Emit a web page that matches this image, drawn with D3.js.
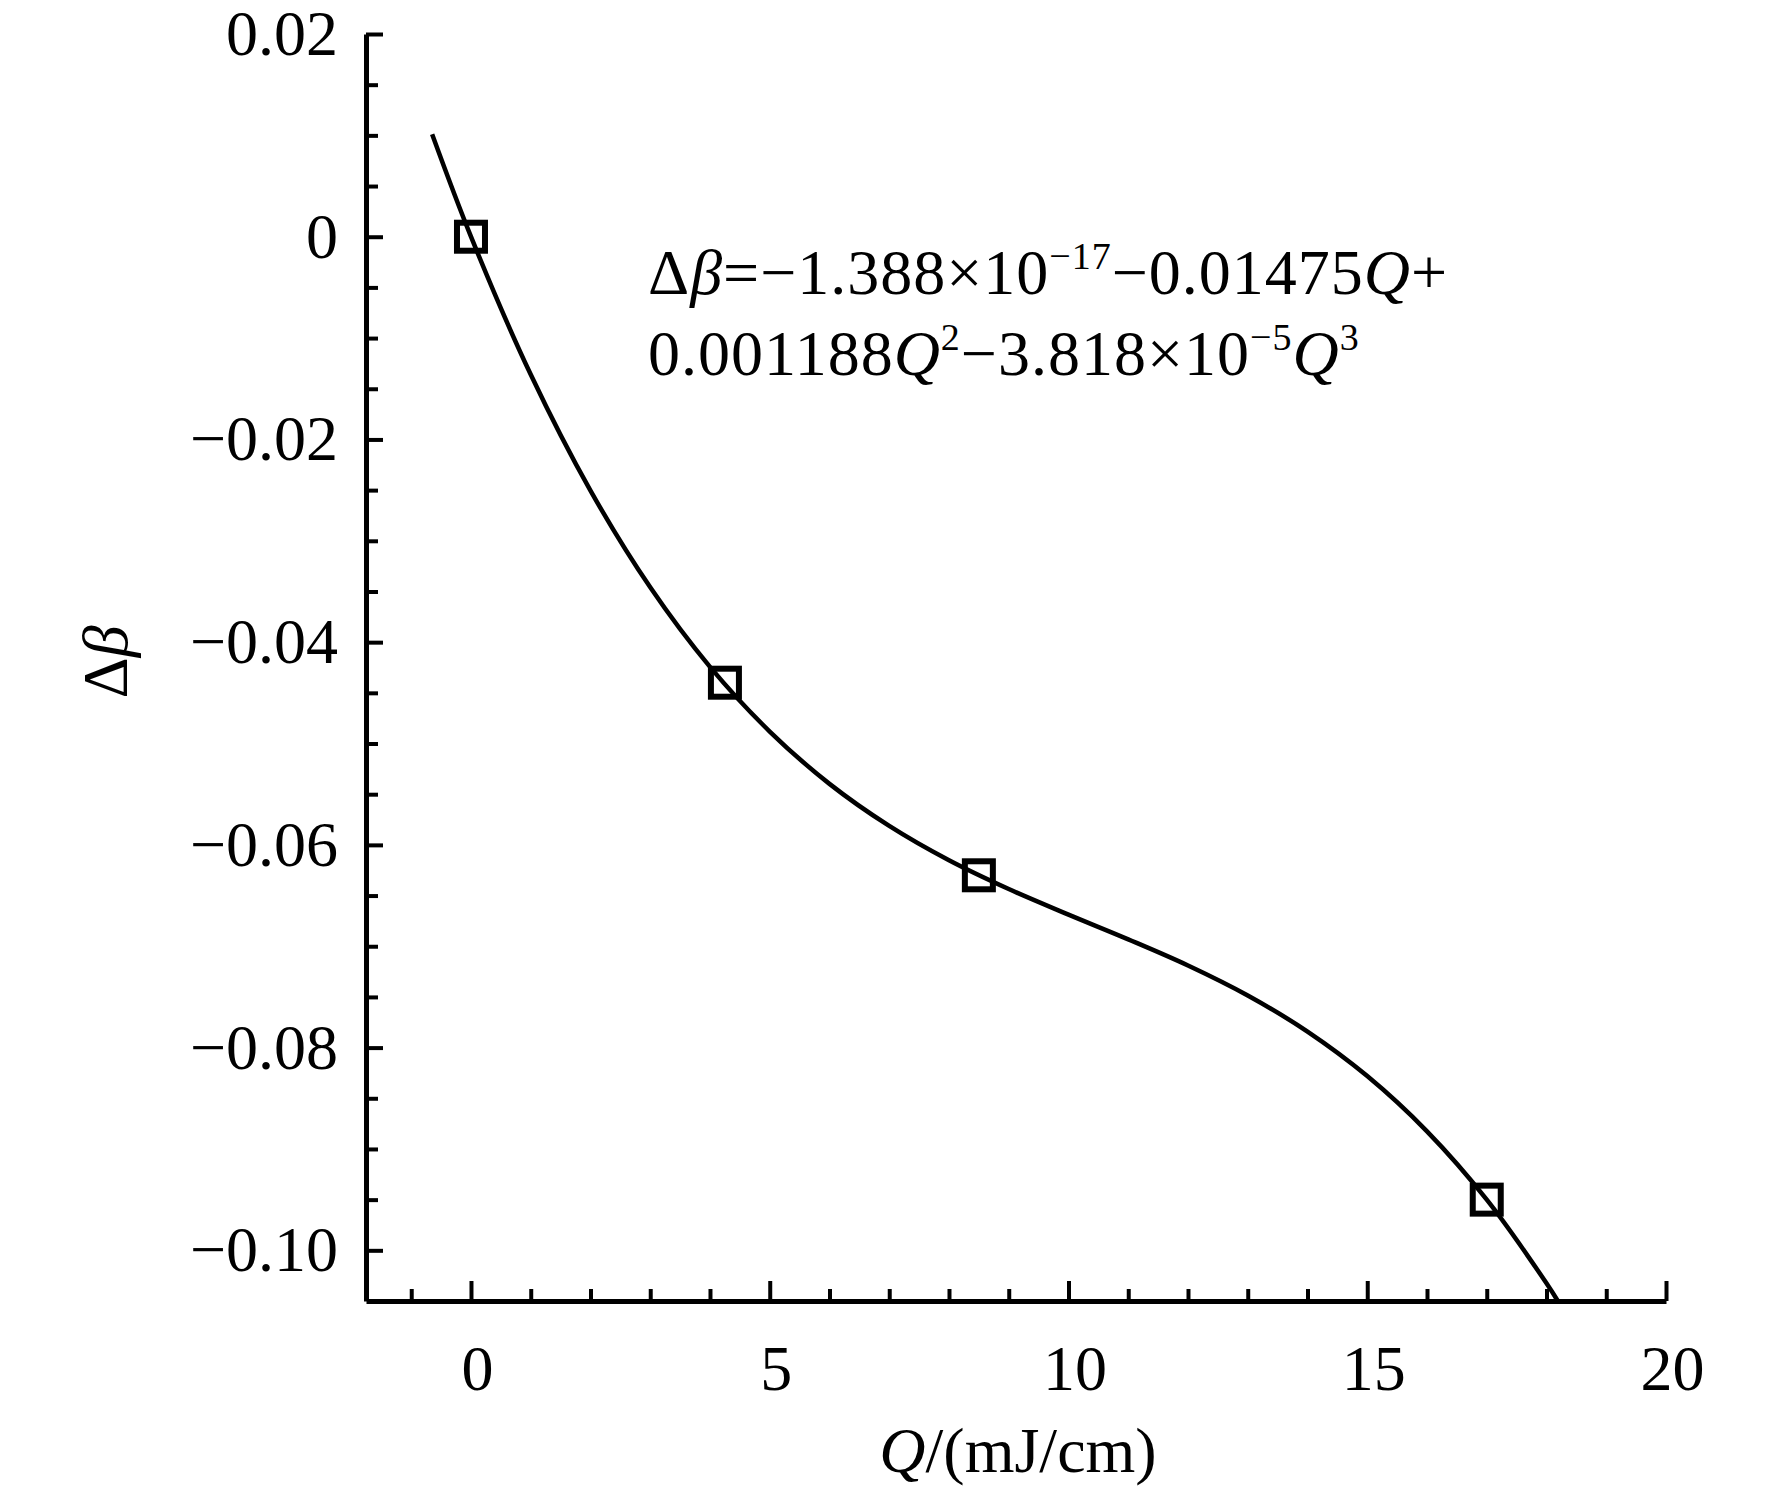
<!DOCTYPE html>
<html>
<head>
<meta charset="utf-8">
<script src="https://cdn.jsdelivr.net/npm/d3@7"></script>
<style>
  body { margin: 0; background: #fff; }
  text { font-family: "Liberation Serif", "Times New Roman", serif; fill: #000; }
</style>
</head>
<body>
<script>
// measured points (squares)
var pointQ = [0, 4.25, 8.5, 17];
var pointB = [0, -0.044, -0.063, -0.095];

// fitted curve
var curveQ = [-0.65, 0, 1, 2, 3, 4, 5, 6, 7, 8, 9, 10, 11, 12, 13, 14, 15, 16, 17, 18, 18.2];
var curveB = [0.0101, 0, -0.0136, -0.02505, -0.03459, -0.04244, -0.04882, -0.05398, -0.05813,
              -0.06152, -0.06436, -0.06688, -0.06932, -0.0719, -0.07486, -0.07842, -0.08281,
              -0.08826, -0.095, -0.10325, -0.1051];

var xMajor = [0, 5, 10, 15, 20];
var xMinor = [-1, 1, 2, 3, 4, 6, 7, 8, 9, 11, 12, 13, 14, 16, 17, 18, 19];
var yMajor = [-0.10, -0.08, -0.06, -0.04, -0.02, 0, 0.02];
var yMinor = [-0.095, -0.09, -0.085, -0.075, -0.07, -0.065, -0.055, -0.05, -0.045,
              -0.035, -0.03, -0.025, -0.015, -0.01, -0.005, 0.005, 0.01, 0.015];

var width = 1772,
    height = 1500;

var svg = d3.select('body')
            .append('svg')
            .attr('width', width)
            .attr('height', height);

var x = d3.scaleLinear().domain([-1.757, 20]).range([366, 1666]);
var y = d3.scaleLinear().domain([-0.105, 0.02]).range([1301, 34]);

var fmtY = function(d) {
  if (d === 0) return "0";
  var s = d3.format(".2f")(Math.abs(d));
  return (d < 0 ? "\u2212" : "") + s;
};

// x axis: minor then major ticks, pointing inward
svg.append("g")
   .attr("transform", "translate(0," + y.range()[0] + ")")
   .call(d3.axisBottom(x).tickValues(xMinor).tickFormat("").tickSizeInner(-12).tickSizeOuter(0))
   .call(function(g) { g.select(".domain").remove(); });

var gx = svg.append("g")
   .attr("transform", "translate(0," + y.range()[0] + ")")
   .call(d3.axisBottom(x).tickValues(xMajor).tickSizeInner(-20).tickSizeOuter(0).tickPadding(44));

// y axis
svg.append("g")
   .attr("transform", "translate(" + x.range()[0] + ",0)")
   .call(d3.axisLeft(y).tickValues(yMinor).tickFormat("").tickSizeInner(-12).tickSizeOuter(0))
   .call(function(g) { g.select(".domain").remove(); });

var gy = svg.append("g")
   .attr("transform", "translate(" + x.range()[0] + ",0)")
   .call(d3.axisLeft(y).tickValues(yMajor).tickFormat(fmtY).tickSizeInner(-17).tickSizeOuter(0).tickPadding(28));

svg.selectAll(".tick line").attr("stroke", "#000").attr("stroke-width", 4);
svg.selectAll(".domain").attr("stroke", "#000").attr("stroke-width", 5);
svg.selectAll(".tick text")
   .style("font-family", '"Liberation Serif", "Times New Roman", serif')
   .attr("font-size", 64)
   .attr("fill", "#000");
gx.selectAll(".tick text").attr("dx", 6);

// fitted curve
var line = d3.line()
  .x(function(d, i) { return x(curveQ[i]); })
  .y(function(d, i) { return y(curveB[i]); })
  .curve(d3.curveCatmullRom);

svg.append("path")
   .datum(curveQ)
   .attr("d", line)
   .attr("fill", "none")
   .attr("stroke", "#000")
   .attr("stroke-width", 4.5);

// squares
svg.selectAll("rect.pt")
   .data(pointQ)
   .enter().append("rect")
   .attr("class", "pt")
   .attr("x", function(d) { return x(d) - 14; })
   .attr("y", function(d, i) { return y(pointB[i]) - 14; })
   .attr("width", 28)
   .attr("height", 28)
   .attr("fill", "none")
   .attr("stroke", "#000")
   .attr("stroke-width", 6);

// equation
var eq = svg.append("text")
  .attr("font-size", 64)
  .attr("letter-spacing", 1);

var l1 = eq.append("tspan").attr("x", 648).attr("y", 294);
l1.append("tspan").text("\u0394");
l1.append("tspan").attr("font-style", "italic").text("\u03b2");
l1.append("tspan").text("=\u22121.388\u00d710");
l1.append("tspan").attr("font-size", 38).attr("dy", -25).text("\u221217");
l1.append("tspan").attr("dy", 25).text("\u22120.01475");
l1.append("tspan").attr("font-style", "italic").text("Q");
l1.append("tspan").text("+");

eq.append("tspan").attr("x", 648).attr("y", 375).text("0.001188");
eq.append("tspan").attr("font-style", "italic").text("Q");
eq.append("tspan").attr("font-size", 38).attr("dy", -25).text("2");
eq.append("tspan").attr("dy", 25).text("\u22123.818\u00d710");
eq.append("tspan").attr("font-size", 38).attr("dy", -25).text("\u22125");
eq.append("tspan").attr("dy", 25).attr("font-style", "italic").text("Q");
eq.append("tspan").attr("font-size", 38).attr("dy", -25).text("3");

// axis titles
var xt = svg.append("text")
  .attr("x", 1018)
  .attr("y", 1472)
  .attr("text-anchor", "middle")
  .attr("font-size", 64);
xt.append("tspan").attr("font-style", "italic").text("Q");
xt.append("tspan").text("/(mJ/cm)");

var yt = svg.append("text")
  .attr("transform", "translate(127,662) rotate(-90)")
  .attr("text-anchor", "middle")
  .attr("font-size", 64);
yt.append("tspan").text("\u0394");
yt.append("tspan").attr("font-style", "italic").text("\u03b2");
</script>
</body>
</html>
